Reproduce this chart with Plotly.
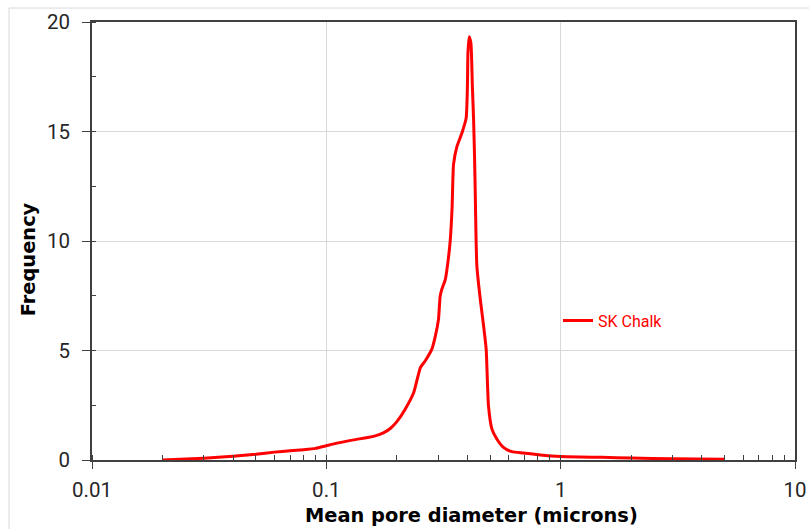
import plotly.graph_objects as go

diameter_um = [0.020, 0.030, 0.040, 0.050, 0.060, 0.070, 0.080, 0.090, 0.100, 0.111,
               0.131, 0.159, 0.176, 0.188, 0.200, 0.217, 0.236, 0.252, 0.264, 0.282,
               0.292, 0.301, 0.306, 0.311, 0.322, 0.332, 0.338, 0.344, 0.349, 0.361,
               0.379, 0.395, 0.400, 0.402, 0.407, 0.414, 0.420, 0.425, 0.429, 0.432,
               0.435, 0.439, 0.454, 0.469, 0.481, 0.487, 0.492, 0.509, 0.534, 0.570,
               0.619, 0.694, 0.818, 1.0, 1.5, 2.0, 3.0, 5.0]
frequency = [0.00, 0.08, 0.17, 0.26, 0.36, 0.42, 0.47, 0.53, 0.65, 0.77,
             0.92, 1.08, 1.25, 1.45, 1.75, 2.32, 3.08, 4.22, 4.52, 5.06,
             5.67, 6.42, 7.48, 7.79, 8.25, 9.23, 10.05, 11.5, 13.5, 14.32,
             14.93, 15.61, 17.05, 18.57, 19.33, 19.03, 17.05, 15.54, 13.86, 12.2,
             10.37, 8.85, 7.33, 6.12, 5.06, 3.54, 2.47, 1.41, 0.96, 0.58,
             0.38, 0.32, 0.23, 0.16, 0.12, 0.09, 0.06, 0.03]
series_name = "SK Chalk"
x_title = "Mean pore diameter (microns)"
y_title = "Frequency"

W, H = 809, 529
L, R, T, B = 92, 14, 22, 68.5
pw, ph = W - L - R, H - T - B

FONT = "Roboto, 'Open Sans', sans-serif"
TITLEFONT = "'DejaVu Sans', Roboto, sans-serif"

fig = go.Figure()
fig.add_trace(go.Scatter(x=diameter_um, y=frequency, mode="lines", name=series_name,
                         line=dict(color="#ff0000", width=3, shape="spline", smoothing=0.5)))

axis_common = dict(showgrid=True, gridcolor="#d9d9d9", gridwidth=1,
                   showline=True, linecolor="#404040", linewidth=1.5, mirror=True,
                   tickcolor="#404040", tickwidth=1, zeroline=False, automargin=False,
                   tickfont=dict(size=20.5, family=FONT, color="#262626"))

fig.update_layout(
    template="none",
    width=W, height=H, margin=dict(l=L, r=R, t=T, b=B, pad=0, autoexpand=False),
    paper_bgcolor="white", plot_bgcolor="white",
    font=dict(family=FONT, size=18, color="#262626"),
    showlegend=True,
    legend=dict(x=(558 - L) / pw, y=(460.5 - 321) / ph, xanchor="left", yanchor="middle",
                bgcolor="rgba(0,0,0,0)", font=dict(color="#ff0000", size=16, family=FONT),
                itemwidth=30, borderwidth=0),
    xaxis=dict(type="log", range=[-2, 1], dtick=1, ticks="outside", ticklen=7,
               ticklabelstandoff=4,
               minor=dict(dtick="D1", ticks="inside", ticklen=5, tickcolor="#404040", showgrid=False),
               **axis_common),
    yaxis=dict(range=[0, 20], dtick=5, ticks="outside", ticklen=8,
               ticklabelstandoff=8,
               minor=dict(dtick=2.5, ticks="inside", ticklen=4, tickcolor="#404040", showgrid=False),
               **axis_common),
    annotations=[
        dict(text="<b>%s</b>" % x_title, xref="paper", yref="paper",
             x=(471 - L) / pw, y=-(516.3 - (T + ph)) / ph, xanchor="center", yanchor="middle",
             showarrow=False, font=dict(size=19.4, family=TITLEFONT, color="#000000")),
        dict(text="<b>%s</b>" % y_title, xref="paper", yref="paper",
             x=(28.5 - L) / pw, y=(T + ph - 260) / ph, xanchor="center", yanchor="middle",
             textangle=-90, showarrow=False, font=dict(size=19.4, family=TITLEFONT, color="#000000")),
    ],
    shapes=[dict(type="rect", xref="paper", yref="paper",
                 x0=(9 - L) / pw, x1=1.2, y0=-0.4, y1=1 + (T - 8) / ph,
                 line=dict(color="#d9d9d9", width=1), fillcolor="rgba(0,0,0,0)", layer="below")],
)

fig.write_html("out.html")
